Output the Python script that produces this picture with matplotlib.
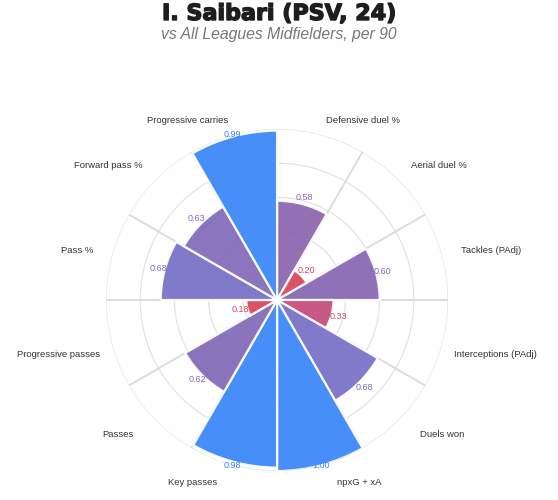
import matplotlib.pyplot as plt
import matplotlib.patheffects as pe
import numpy as np

# Percentile ranks, clockwise from 12 o'clock
categories = ['Defensive duel %', 'Aerial duel %', 'Tackles (PAdj)', 'Interceptions (PAdj)',
              'Duels won', 'npxG + xA', 'Key passes', 'Passes', 'Progressive passes',
              'Pass %', 'Forward pass %', 'Progressive carries']
values = [0.58, 0.20, 0.60, 0.33, 0.68, 1.00, 0.98, 0.62, 0.18, 0.68, 0.63, 0.99]

title = 'I. Saibari (PSV, 24)'
subtitle = 'vs All Leagues Midfielders, per 90'

# red -> purple -> blue depending on the percentile
def bar_color(v):
    stops = [(0.0, '#e23a4c'), (0.20, '#d8465e'), (0.33, '#c34c7b'), (0.58, '#8b64ad'),
             (0.68, '#7870c6'), (0.90, '#3a86f8'), (1.0, '#3a86f8')]
    for (a, ca), (b, cb) in zip(stops[:-1], stops[1:]):
        if a <= v <= b:
            t = (v - a) / (b - a)
            ca = np.array([int(ca[i:i+2], 16) for i in (1, 3, 5)]) / 255
            cb = np.array([int(cb[i:i+2], 16) for i in (1, 3, 5)]) / 255
            return tuple(ca + (cb - ca) * t)
    return '#3a86f8'

plt.rcParams['font.family'] = ['Liberation Sans', 'DejaVu Sans']

fig = plt.figure(figsize=(5.58, 5.0), dpi=100)
ax = fig.add_axes([0.19, 0.058, 0.613, 0.684], projection='polar')
ax.set_theta_zero_location('N')
ax.set_theta_direction(-1)
ax.set_ylim(0, 1.0)
ax.axis('off')

n = len(categories)
width = 2 * np.pi / n
theta = np.arange(n) * width + width / 2

# grid rings and spokes
t = np.linspace(0, 2 * np.pi, 400)
for r in [0.2, 0.4, 0.6, 0.8, 1.0]:
    ax.plot(t, np.full_like(t, r), color='#e3e3e3', lw=0.9, zorder=1)
for a in np.arange(n) * width:
    ax.plot([a, a], [0, 1.0], color='#dcdcdc', lw=1.4, zorder=1)

colors = [bar_color(v) for v in values]
ax.bar(theta, values, width=width, bottom=0, color=colors, alpha=0.93,
       edgecolor='white', linewidth=1.6, zorder=2)

# value labels just past the bar end, kept inside the outer ring
for th, v, c in zip(theta, values, colors):
    ax.text(th, min(v + 0.04, 1.0), f'{v:.2f}', color=c, fontsize=6.5,
            ha='center', va='center', zorder=3)

# category labels around the outside (pixel offsets from the centre)
R = 190
for th, lab in zip(theta, categories):
    s, c = np.sin(th), np.cos(th)
    dx, dy = R * s, R * c
    if c > 0.9:
        dy -= 4
    if -0.5 < c < 0:
        dx -= 7 * np.sign(s)
        dy -= 5
    if -0.9 < c < -0.5:
        dx += 9 * np.sign(s)
    if c < -0.9:
        dx += 11 * np.sign(s)
        dy += 1
    ax.annotate(lab, xy=(0, 0), xytext=(dx * 0.72, dy * 0.72), textcoords='offset points',
                fontsize=6.8, color='#333333', ha='left' if s > 0 else 'right', va='center',
                annotation_clip=False)

fig.text(0.5, 0.972, title, ha='center', va='center', fontsize=16, fontweight='bold',
         family='DejaVu Sans', color='#1e1e1e',
         path_effects=[pe.withStroke(linewidth=1.0, foreground='#1e1e1e')])
fig.text(0.5, 0.931, subtitle, ha='center', va='center', fontsize=11.3, style='italic', color='#777777')

fig.savefig('out.png', dpi=100)
